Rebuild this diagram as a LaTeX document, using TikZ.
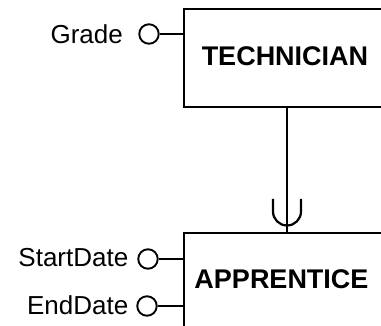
\documentclass[tikz,border=0pt]{standalone}
\usepackage{fontspec}
\setmainfont{Liberation Sans}
\usetikzlibrary{calc}
\begin{document}
\begin{tikzpicture}[x=1pt,y=-1pt,
  entity/.style={draw,line width=2.2pt,rectangle,minimum width=240pt,minimum height=98pt,anchor=north west,inner sep=0pt},
  ename/.style={font=\fontsize{27}{32}\selectfont\bfseries,inner sep=0pt},
  attr/.style={draw,circle,line width=1.9pt,minimum size=19.5pt,inner sep=0pt},
  aname/.style={font=\fontsize{26}{31}\selectfont,inner sep=0pt,anchor=east},
  link/.style={line width=2.2pt}]
\useasboundingbox (0,0) rectangle (381,326);
\clip (0,0) rectangle (381,326);
\node[entity] (tech) at (182.5,8) {};
\node[ename] (techname) at (285,56) {TECHNICIAN};
\node[entity] (appr) at (182.5,232) {};
\node[ename] (apprname) at (281.5,279) {APPRENTICE};
% Grade
\node[attr] (grade) at (149,34) {};
\node[aname] (gradet) at (123,34) {Grade};
\draw[link] (grade.east) -- (grade.east -| tech.west);
% StartDate
\node[attr] (sd) at (148,259) {};
\node[aname] (sdt) at (128.5,258) {StartDate};
\draw[link] (sd.east) -- (sd.east -| appr.west);
% EndDate
\node[attr] (ed) at (147,306) {};
\node[aname] (edt) at (128.5,305) {EndDate};
\draw[link] (ed.east) -- (ed.east -| appr.west);
% relationship
\coordinate (top) at ($(tech.south west)+(104.5,0)$);
\coordinate (bot) at ($(appr.north west)+(104.5,0)$);
\draw[link] (top) -- (bot);
\draw[link] ($(bot)+(-14,-33)$) -- ++(0,12.5) arc[start angle=180,end angle=0,radius=14] -- ++(0,-12.5);
\end{tikzpicture}
\end{document}
